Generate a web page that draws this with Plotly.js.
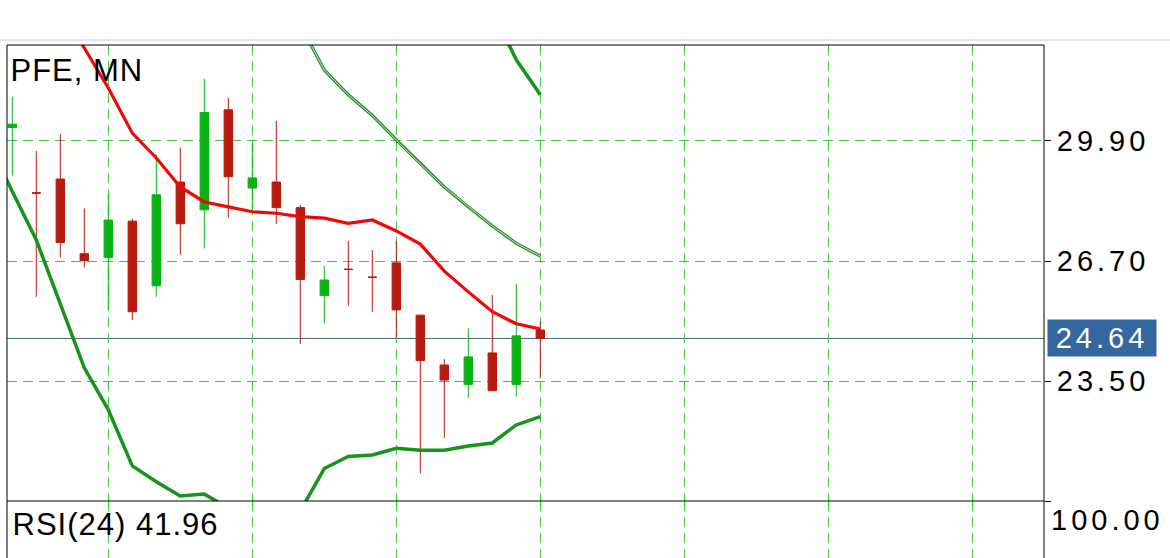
<!DOCTYPE html>
<html>
<head>
<meta charset="utf-8">
<script src="https://cdn.plot.ly/plotly-3.0.1.min.js"></script>
<style>
  html, body { margin: 0; padding: 0; background: #ffffff; }
  #chart { width: 1170px; height: 558px; }
  .yaxislayer-above text { letter-spacing: 4px; }
  g.annotation[data-index="0"] text { letter-spacing: 1px; }
  g.annotation[data-index="1"] text { letter-spacing: 4px; }
  g.annotation[data-index="2"] text { letter-spacing: 1px; }
  g.annotation[data-index="3"] text { letter-spacing: 4px; }
</style>
</head>
<body>
<div id="chart"></div>
<script>
// ---- data (monthly candles, index 0..22) ----
const idx   = [0,1,2,3,4,5,6,7,8,9,10,11,12,13,14,15,16,17,18,19,20,21,22];
const open  = [30.25,28.515,28.88,26.895,26.79,27.76,26.04,28.80,28.06,30.72,28.64,28.80,28.12,25.78,26.485,26.275,26.65,25.26,23.935,23.41,24.255,23.41,24.865];
const high  = [31.07,29.63,30.07,28.10,28.46,27.82,29.54,29.71,31.54,31.04,29.84,30.43,28.19,26.57,27.23,26.99,27.23,25.26,24.09,24.91,25.80,26.09,25.10];
const low   = [28.97,25.75,26.79,26.53,25.40,25.13,25.75,26.87,27.03,27.85,28.06,27.69,24.49,25.04,25.51,25.34,24.65,21.05,22.00,23.065,23.24,23.09,23.58];
const close = [30.34,28.505,27.19,26.71,27.79,25.35,28.46,27.69,30.65,28.94,28.91,28.12,26.21,26.195,26.475,26.265,25.40,24.05,23.535,24.15,23.25,24.71,24.64];

// indicator lines start one bar earlier (bar -1 is scrolled off the left edge)
const lineIdx      = [-1,0,1,2,3,4,5,6,7,8,9,10,11,12,13,14,15,16,17,18,19,20,21,22];
const maRed        = [null,null,null,33.43,32.37,31.30,30.10,29.44,28.67,28.27,28.14,28.01,27.97,27.88,27.84,27.70,27.79,27.50,27.15,26.43,25.88,25.35,25.03,24.89];
const bandLowThick = [29.90,28.55,27.26,25.56,23.86,22.74,21.25,20.83,20.45,20.50,20.13,19.86,19.81,20.05,21.18,21.50,21.54,21.72,21.67,21.67,21.78,21.86,22.34,22.56];
const bandUpThick  = [null,null,null,null,null,null,null,null,null,null,null,null,null,null,null,null,null,null,null,null,null,33.36,32.05,31.12];
const bandUpThin   = [null,null,null,null,null,null,null,null,null,null,null,null,null,32.98,31.78,31.12,30.57,29.92,29.28,28.67,28.14,27.63,27.17,26.83];

const priceTicks = [23.50, 26.70, 29.90];
const priceTickText = ["23.50", "26.70", "29.90"];
const lastPrice = 24.64;
const lastPriceText = "24.64";
const rsiPeriod = 24;
const rsiValue = 41.96;
const rsiTopText = "100.00";
const symbolText = "PFE, MN";

// ---- layout helpers ----
const W = 1170, H = 558, ML = 7, MR = 126, MT = 45, MB = 0;
const PW = W - ML - MR, PH = H - MT - MB;
const px = v => (v - ML) / PW;
const py = v => (H - MB - v) / PH;
const paneSplit = py(501);

const FONT = "Liberation Sans, Arial, Helvetica, sans-serif";
const GRID = "rgb(60,205,60)";
const GREEN = "rgb(10,178,20)";
const RED = "rgb(183,27,16)";

const traces = [
  {
    type: "candlestick", x: idx, open: open, high: high, low: low, close: close,
    xaxis: "x", yaxis: "y",
    increasing: { line: { color: GREEN, width: 1 }, fillcolor: GREEN },
    decreasing: { line: { color: RED, width: 1 }, fillcolor: RED },
    whiskerwidth: 0, hoverinfo: "skip"
  },
  { type: "scatter", mode: "lines", x: lineIdx, y: bandUpThin, xaxis: "x", yaxis: "y",
    line: { color: "rgb(40,140,40)", width: 3.2 }, hoverinfo: "skip" },
  { type: "scatter", mode: "lines", x: lineIdx, y: bandUpThin, xaxis: "x", yaxis: "y",
    line: { color: "rgb(200,235,200)", width: 1 }, hoverinfo: "skip" },
  { type: "scatter", mode: "lines", x: lineIdx, y: bandUpThick, xaxis: "x", yaxis: "y",
    line: { color: "rgb(22,148,28)", width: 3.5 }, hoverinfo: "skip" },
  { type: "scatter", mode: "lines", x: lineIdx, y: bandLowThick, xaxis: "x", yaxis: "y",
    line: { color: "rgb(22,148,28)", width: 3.5 }, hoverinfo: "skip" },
  { type: "scatter", mode: "lines", x: lineIdx, y: maRed, xaxis: "x", yaxis: "y",
    line: { color: "rgb(240,8,8)", width: 3.2 }, hoverinfo: "skip" },
  { type: "scatter", mode: "lines", x: [idx[idx.length - 1]], y: [rsiValue], xaxis: "x2", yaxis: "y2",
    line: { color: "rgb(30,144,255)", width: 2 }, hoverinfo: "skip" }
];

const xr = [-0.221, -0.221 + PW / 24];
const xCommon = {
  range: xr, showticklabels: false, ticks: "", zeroline: false, showline: false,
  showgrid: true, gridcolor: GRID, gridwidth: 1, griddash: "10px,6px",
  tick0: 4, dtick: 6, tickmode: "linear", fixedrange: true
};

const layout = {
  width: W, height: H,
  margin: { l: ML, r: MR, t: MT, b: MB, pad: 0 },
  paper_bgcolor: "#ffffff", plot_bgcolor: "#ffffff",
  showlegend: false, hovermode: false,
  boxgap: 0.5,
  font: { family: FONT, color: "#000000" },
  xaxis: Object.assign({}, xCommon, { anchor: "y", rangeslider: { visible: false } }),
  xaxis2: Object.assign({}, xCommon, { anchor: "y2" }),
  yaxis: {
    domain: [paneSplit, 1], range: [20.317, 32.445], side: "right",
    tickmode: "array", tickvals: priceTicks, ticktext: priceTickText,
    ticks: "outside", ticklen: 6, tickcolor: "#000", tickwidth: 1,
    tickfont: { family: FONT, size: 29, color: "#000" },
    ticklabelstandoff: 0,
    showgrid: true, gridcolor: GRID, gridwidth: 1, griddash: "10px,6px",
    zeroline: false, showline: false, anchor: "x", fixedrange: true
  },
  yaxis2: {
    domain: [0, paneSplit], range: [62, 100], side: "right",
    tickmode: "array", tickvals: [100], showticklabels: false,
    ticks: "outside", ticklen: 6, tickcolor: "#000", tickwidth: 1,
    showgrid: false, zeroline: false, showline: false, anchor: "x2", fixedrange: true
  },
  shapes: [
    { type: "line", xref: "paper", yref: "paper", x0: px(0), x1: px(W), y0: py(40), y1: py(40),
      line: { color: "rgb(200,200,200)", width: 1 } },
    { type: "line", xref: "paper", yref: "y", x0: 0, x1: 1, y0: lastPrice, y1: lastPrice,
      line: { color: "rgb(62,104,140)", width: 1 }, layer: "below" },
    { type: "line", xref: "paper", yref: "paper", x0: 0, x1: 1, y0: 1, y1: 1, line: { color: "#000", width: 1 } },
    { type: "line", xref: "paper", yref: "paper", x0: 0, x1: 0, y0: 0, y1: 1, line: { color: "#000", width: 1 } },
    { type: "line", xref: "paper", yref: "paper", x0: 1, x1: 1, y0: 0, y1: 1, line: { color: "#000", width: 1 } },
    { type: "line", xref: "paper", yref: "paper", x0: 0, x1: 1, y0: paneSplit, y1: paneSplit, line: { color: "#000", width: 1 } }
  ],
  annotations: [
    { text: symbolText, xref: "paper", yref: "paper", x: px(77), y: py(70),
      xanchor: "center", yanchor: "middle", showarrow: false, borderpad: 0,
      font: { family: FONT, size: 31, color: "#000" } },
    { text: lastPriceText, xref: "paper", yref: "y", x: px(1047), y: lastPrice,
      xanchor: "left", yanchor: "middle", showarrow: false, borderpad: 0,
      width: 108, height: 36, align: "center", bgcolor: "rgb(52,103,160)",
      font: { family: FONT, size: 29, color: "#ffffff" } },
    { text: "RSI(" + rsiPeriod + ") " + rsiValue.toFixed(2), xref: "paper", yref: "paper", x: px(115), y: py(524),
      xanchor: "center", yanchor: "middle", showarrow: false, borderpad: 0,
      font: { family: FONT, size: 31, color: "#000" } },
    { text: rsiTopText, xref: "paper", yref: "paper", x: px(1107), y: py(520),
      xanchor: "center", yanchor: "middle", showarrow: false, borderpad: 0,
      font: { family: FONT, size: 29, color: "#000" } }
  ]
};

Plotly.newPlot("chart", traces, layout, { staticPlot: true, displayModeBar: false });
</script>
</body>
</html>
